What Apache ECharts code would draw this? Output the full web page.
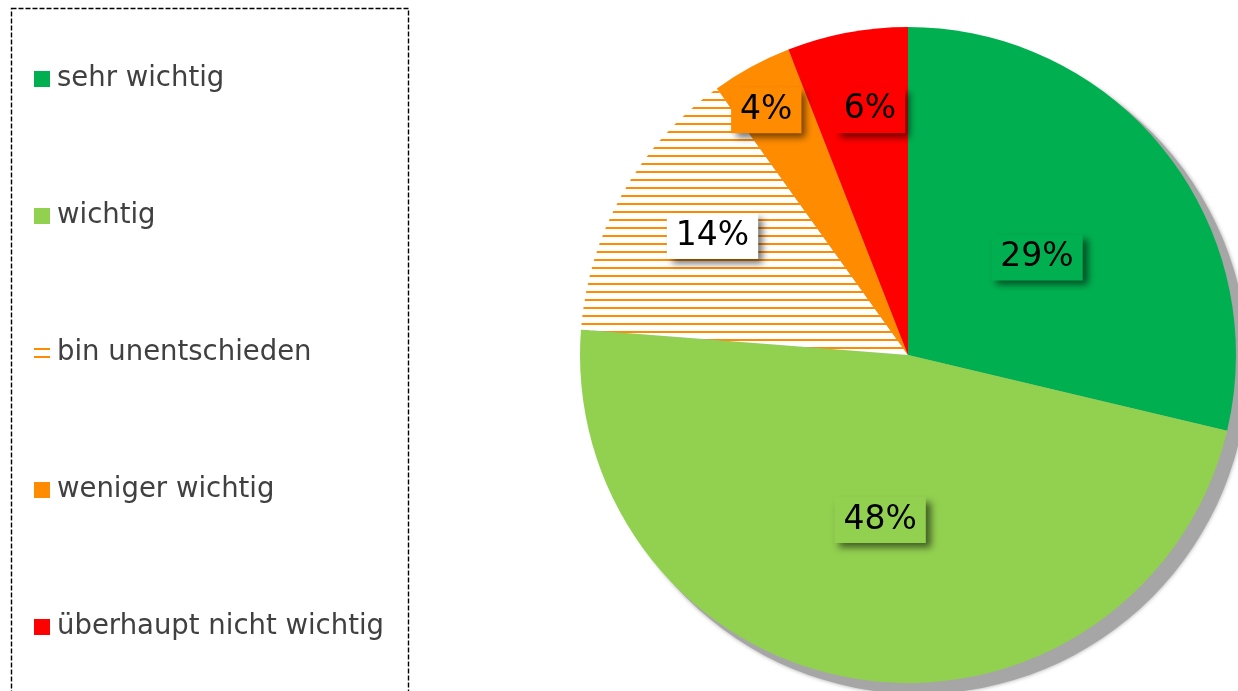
<!DOCTYPE html>
<html>
<head>
<meta charset="utf-8">
<script src="https://cdn.jsdelivr.net/npm/echarts@6/dist/echarts.min.js"></script>
<style>
  html, body { margin: 0; padding: 0; background: #fff; }
  #chart { width: 1238px; height: 691px; }
</style>
</head>
<body>
<div id="chart"></div>
<script>
// Antworten (Werte in %)
const categories = ['sehr wichtig', 'wichtig', 'bin unentschieden', 'weniger wichtig', 'überhaupt nicht wichtig']
const shares = [29, 48, 14, 4, 6]

// schraffur fuer "bin unentschieden"
function hatch() {
  const c = document.createElement('canvas')
  c.width = 8
  c.height = 8
  const ctx = c.getContext('2d')
  ctx.fillStyle = '#ffffff'
  ctx.fillRect(0, 0, 8, 8)
  ctx.fillStyle = '#ff8c00'
  ctx.fillRect(0, 3, 8, 2)
  return c
}

const colors = ['#00b050', '#92d050', { image: hatch(), repeat: 'repeat' }, '#ff8c00', '#ff0000']
const labelBg = ['#00b050', '#92d050', '#ffffff', '#ff8c00', '#ff0000']
// Verschiebung der Beschriftungen gegenueber der Standardposition
const labelShift = [[-2, 6], [-2, 0], [-50, -37], [-62, -98], [-7, -81]]

const chart = echarts.init(document.getElementById('chart'))
chart.setOption({
  backgroundColor: '#ffffff',
  animation: false,
  legend: {
    orient: 'vertical',
    left: 29,
    top: 60,
    icon: 'rect',
    itemWidth: 16,
    itemHeight: 16,
    itemGap: 109,
    data: categories,
    textStyle: {
      fontFamily: 'DejaVu Sans',
      fontSize: 27.5,
      color: '#404040',
      padding: [0, 0, 0, 2]
    }
  },
  graphic: [
    {
      type: 'rect',
      silent: true,
      shape: { x: 11.5, y: 8.5, width: 397, height: 720 },
      style: { fill: 'none', stroke: '#000', lineWidth: 1.4, lineDash: [5, 2] }
    },
    {
      type: 'circle',
      silent: true,
      z: -1,
      shape: { cx: 919, cy: 365, r: 329 },
      style: { fill: '#a6a6a6', shadowBlur: 4, shadowColor: '#a6a6a6' }
    }
  ],
  series: [{
    type: 'pie',
    center: [908, 355],
    radius: 328,
    startAngle: 90,
    clockwise: true,
    avoidLabelOverlap: false,
    data: categories.map((name, i) => ({
      name,
      value: shares[i],
      itemStyle: { color: colors[i] },
      label: { backgroundColor: labelBg[i] }
    })),
    label: {
      show: true,
      position: 'inside',
      formatter: '{c}%',
      fontFamily: 'DejaVu Sans',
      fontSize: 33,
      color: '#000',
      padding: [8, 9, 5, 9],
      shadowColor: 'rgba(0,0,0,0.55)',
      shadowBlur: 7,
      shadowOffsetX: 5,
      shadowOffsetY: 5
    },
    labelLine: { show: false },
    labelLayout(params) {
      const s = labelShift[params.dataIndex]
      return { dx: s[0], dy: s[1] }
    },
    emphasis: { disabled: true }
  }]
})
</script>
</body>
</html>
